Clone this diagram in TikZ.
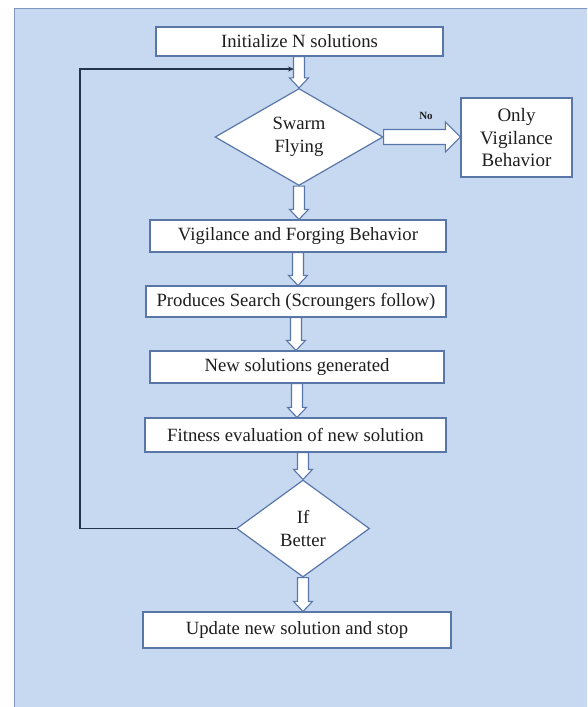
\documentclass[tikz,border=0pt]{standalone}
\usepackage{fontspec}
\setmainfont{Liberation Serif}
\usetikzlibrary{shapes.geometric,arrows.meta,calc}
\definecolor{panel}{HTML}{C6D9F0}
\definecolor{edgec}{HTML}{5877A8}
\definecolor{pframe}{HTML}{7F97BC}
\definecolor{loopc}{HTML}{26334D}
\definecolor{txt}{HTML}{1E1E1E}
\newcommand{\bxfont}{\fontsize{18.7}{22}\selectfont}
\newcommand{\dmfont}{\fontsize{18.7}{23}\selectfont}
% hollow vertical arrow: x taken from #1, from #2.south to #3.north
\newcommand{\varr}[3]{%
  \draw[harrow] let \p3=(#1), \p1=(#2.south), \p2=(#3.north) in
    (\x3-5.5pt,\y1) -- (\x3+5.5pt,\y1) -- (\x3+5.5pt,\y2+10pt) -- (\x3+9.5pt,\y2+10pt)
    -- (\x3,\y2) -- (\x3-9.5pt,\y2+10pt) -- (\x3-5.5pt,\y2+10pt) -- cycle;}
% hollow horizontal arrow from #1.east to #2.west
\newcommand{\harr}[2]{%
  \draw[harrow] let \p1=(#1.east), \p2=(#2.west) in
    (\x1,\y1+7.5pt) -- (\x2-15pt,\y1+7.5pt) -- (\x2-15pt,\y1+15pt) -- (\x2,\y1)
    -- (\x2-15pt,\y1-15pt) -- (\x2-15pt,\y1-7.5pt) -- (\x1,\y1-7.5pt) -- cycle;}
\begin{document}
\begin{tikzpicture}[x=1pt,y=-1pt,
  box/.style={draw=edgec, fill=white, line width=1.2pt, inner sep=0pt, text=txt, font=\bxfont},
  dia/.style={diamond, draw=edgec, fill=white, line width=1.2pt, inner sep=0pt, aspect=1.6, text=txt, font=\dmfont, align=center},
  harrow/.style={draw=edgec, fill=white, line width=1.1pt, line join=miter},
  loopl/.style={draw=loopc, line width=1.2pt, -{Stealth[length=6pt,width=5pt]}}]
\useasboundingbox (0,0) rectangle (587,707);
\clip (0,0) rectangle (587,707);
\fill[panel] (14,8) rectangle (600,720);
\draw[pframe, line width=1pt] (14,720) -- (14,8) -- (600,8);

\node[box, minimum width=287, minimum height=29] (init) at (299.5,41.5) {Initialize N solutions};
\node[dia, minimum width=168, minimum height=97] (swarm) at (299,137) {Swarm\\Flying};
\node[box, minimum width=111, minimum height=79, align=center, font=\fontsize{19}{22.5}\selectfont] (only) at (516.5,137.5) {Only\\Vigilance\\Behavior};
\node[box, minimum width=296, minimum height=32] (vig) at (298,236) {Vigilance and Forging Behavior};
\node[box, minimum width=300, minimum height=31] (prod) at (296,301.5) {Produces Search (Scroungers follow)};
\node[box, minimum width=294, minimum height=32] (new) at (297,367) {New solutions generated};
\node[box, minimum width=301, minimum height=34] (fit) at (295.5,435) {Fitness evaluation of new solution};
\node[dia, minimum width=133, minimum height=97] (ifb) at (303,528.5) {If\\Better};
\node[box, minimum width=308, minimum height=36] (upd) at (297,630) {Update new solution and stop};
\node[font=\bfseries\fontsize{11}{13}\selectfont, text=txt] (no) at (426,116) {No};

\coordinate (lc) at (80,69);
\coordinate (le) at (294,69);
\draw[loopl] (ifb.west) -| (lc) -- (le);

\varr{swarm.north}{init}{swarm}
\varr{swarm.south}{swarm}{vig}
\varr{vig.south}{vig}{prod}
\varr{prod.south}{prod}{new}
\varr{new.south}{new}{fit}
\varr{ifb.north}{fit}{ifb}
\varr{ifb.south}{ifb}{upd}
\harr{swarm}{only}
\end{tikzpicture}
\end{document}
